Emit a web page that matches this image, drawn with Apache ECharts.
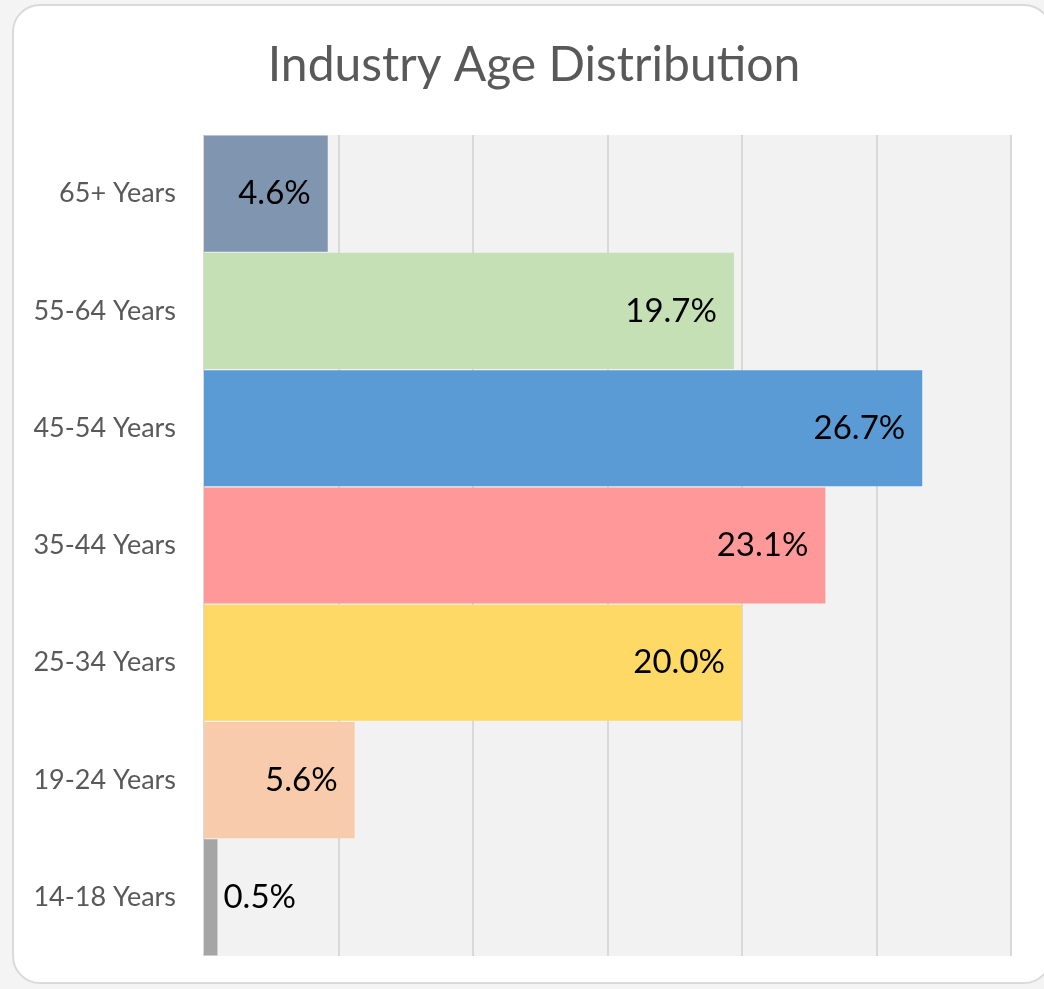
<!DOCTYPE html>
<html>
<head>
<meta charset="utf-8">
<script src="https://cdn.jsdelivr.net/npm/echarts@6/dist/echarts.min.js"></script>
<style>
  html, body { margin: 0; padding: 0; background: #f4f4f4; }
  .card {
    position: absolute; left: 12px; top: 4px; width: 1040px; height: 980px;
    background: #fff; border: 2px solid #dadada; border-radius: 28px; box-sizing: border-box;
  }
  #chart { position: absolute; left: 0; top: 0; width: 1044px; height: 989px; }
</style>
</head>
<body>
<div class="card"></div>
<div id="chart"></div>
<script>
// data, bottom to top
const categories = ["14-18 Years", "19-24 Years", "25-34 Years", "35-44 Years", "45-54 Years", "55-64 Years", "65+ Years"];
const shares = [0.5, 5.6, 20.0, 23.1, 26.7, 19.7, 4.6];
const barColors = ["#a5a5a5", "#f8cbad", "#ffd966", "#ff9999", "#5b9bd5", "#c5e0b4", "#8096b0"];

const FONT = "Lato";

const chart = echarts.init(document.getElementById("chart"));
chart.setOption({
  animation: false,
  title: {
    text: "Industry Age Distribution",
    left: 529,
    top: 37,
    textAlign: "center",
    textStyle: { color: "#595959", fontFamily: FONT, fontWeight: "normal", fontSize: 48 },
  },
  grid: {
    left: 204, top: 135, right: 33, bottom: 33,
    show: true, backgroundColor: "#f2f2f2", borderWidth: 0,
  },
  xAxis: {
    type: "value",
    min: 0, max: 30, interval: 5,
    axisLabel: { show: false },
    axisLine: { show: false },
    axisTick: { show: false },
    splitLine: { show: true, lineStyle: { color: "#d9d9d9", width: 2 } },
  },
  yAxis: {
    type: "category",
    data: categories,
    axisLine: { show: false },
    axisTick: { show: false },
    axisLabel: { color: "#595959", fontFamily: FONT, fontSize: 27, margin: 28 },
  },
  series: [{
    type: "bar",
    barCategoryGap: "1%",
    data: shares.map((v, i) => ({
      value: v,
      itemStyle: { color: barColors[i] },
      label: i === 0 ? { position: "right", distance: 6 } : {},
    })),
    label: {
      show: true,
      position: "insideRight",
      distance: 17,
      color: "#000",
      fontFamily: FONT,
      fontSize: 33,
      formatter: p => p.value.toFixed(1) + "%",
    },
  }],
});
</script>
</body>
</html>
